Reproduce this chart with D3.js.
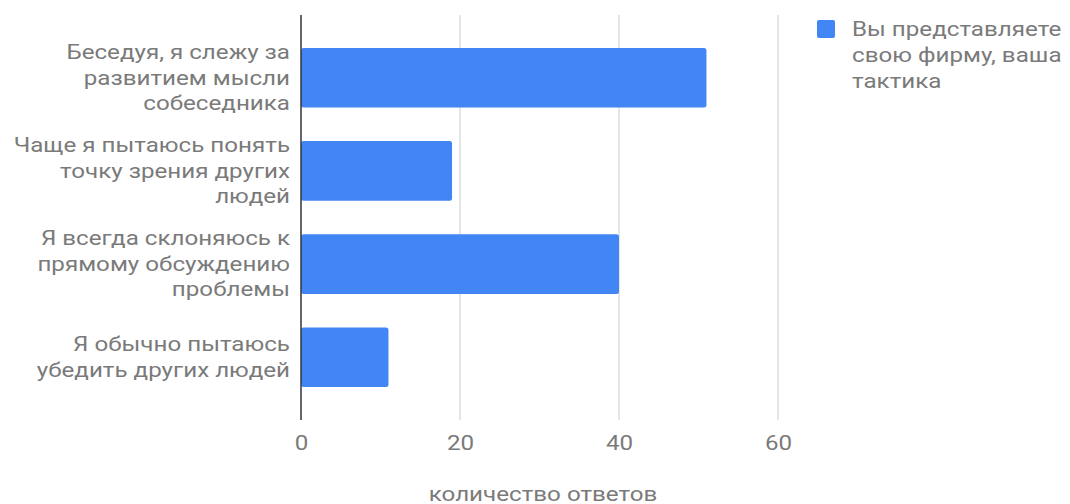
<!DOCTYPE html>
<html><head><meta charset="utf-8">
<script src="https://cdn.jsdelivr.net/npm/d3@7"></script>
<style>body{margin:0;background:#fff}svg{display:block}</style>
</head><body>
<svg id="c" width="1070" height="504"></svg>
<script>
const categories = [
  ["Беседуя, я слежу за","развитием мысли","собеседника"],
  ["Чаще я пытаюсь понять","точку зрения других","людей"],
  ["Я всегда склоняюсь к","прямому обсуждению","проблемы"],
  ["Я обычно пытаюсь","убедить других людей"]
];
const values = [51, 19, 40, 11];
const xTicks = [0, 20, 40, 60];
const seriesName = ["Вы представляете","свою фирму, ваша","тактика"];
const axisTitle = "количество ответов";

const svg = d3.select("#c");
const font = "Roboto, 'Noto Sans', sans-serif";
const textColor = "#7a7a7a";
const fs = 19.5;
const sx = 1.24;
const x = d3.scaleLinear().domain([0, 60]).range([301, 778]);
const y = d3.scaleBand().domain(d3.range(categories.length)).range([15, 420]).paddingInner(0.36).paddingOuter(0.353);

// gridlines
svg.append("g").selectAll("line").data(xTicks.filter(t => t > 0)).join("line")
  .attr("x1", d => x(d)).attr("x2", d => x(d)).attr("y1", 15).attr("y2", 420)
  .attr("stroke", "#cccccc").attr("stroke-width", 1);

// bars
svg.append("g").selectAll("rect").data(values).join("rect")
  .attr("x", x(0)).attr("y", (d, i) => y(i))
  .attr("width", d => x(d) - x(0)).attr("height", y.bandwidth())
  .attr("rx", 2.5).attr("fill", "#4285f4");

// axis line
svg.append("line").attr("x1", x(0)).attr("x2", x(0)).attr("y1", 15).attr("y2", 420)
  .attr("stroke", "#333").attr("stroke-width", 1.5);

// x tick labels
const xAxis = d3.axisBottom(x).tickValues(xTicks).tickSize(0).tickPadding(0);
const gx = svg.append("g").attr("transform", "translate(0,420)").call(xAxis);
gx.select(".domain").remove();
gx.selectAll(".tick text").attr("font-family", font).attr("font-size", fs).attr("fill", textColor)
  .attr("dy", "0").attr("y", 30).attr("transform", `scale(${sx},1)`);

// category labels
const lh = 25.5;
const lg = svg.append("g");
categories.forEach((lines, i) => {
  const cy = y(i) + y.bandwidth() / 2;
  const t = lg.append("g").attr("transform", `translate(290,0) scale(${sx},1)`)
    .append("text").attr("text-anchor", "end").attr("font-family", font)
    .attr("font-size", fs).attr("fill", textColor);
  lines.forEach((ln, k) => {
    t.append("tspan").attr("x", 0)
      .attr("y", cy + (k - (lines.length - 1) / 2) * lh)
      .attr("dy", "0.35em").text(ln);
  });
});

// axis title
svg.append("g").attr("transform", `translate(543,0) scale(${sx},1)`)
  .append("text").attr("x", 0).attr("y", 501).attr("text-anchor", "middle")
  .attr("font-family", font).attr("font-size", fs).attr("fill", textColor).text(axisTitle);

// legend
svg.append("rect").attr("x", 817).attr("y", 20).attr("width", 18).attr("height", 18)
  .attr("rx", 2).attr("fill", "#4285f4");
const lt = svg.append("g").attr("transform", `translate(852,0) scale(${sx},1)`)
  .append("text").attr("font-family", font).attr("font-size", fs).attr("fill", textColor);
seriesName.forEach((ln, k) => {
  lt.append("tspan").attr("x", 0).attr("y", 29 + k * 26).attr("dy", "0.35em").text(ln);
});
</script>
</body></html>
